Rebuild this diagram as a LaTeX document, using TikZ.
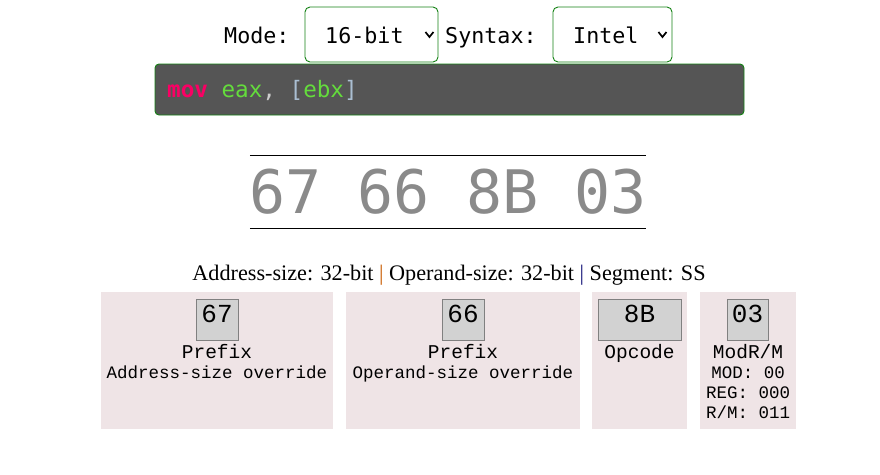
\documentclass[tikz,border=0pt]{standalone}
\usepackage{fontspec}
\setmainfont{Liberation Serif}
\newfontfamily\dvmono{DejaVu Sans Mono}
\newfontfamily\lbmono{Liberation Mono}
\usepackage{tikz}
\usetikzlibrary{positioning}
\definecolor{selgreen}{RGB}{20,130,20}
\definecolor{codebg}{RGB}{85,85,85}
\definecolor{movpink}{RGB}{250,0,100}
\definecolor{regreen}{RGB}{100,220,60}
\definecolor{punctgray}{RGB}{205,205,205}
\definecolor{brackgray}{RGB}{170,190,210}
\definecolor{hexgray}{RGB}{138,138,138}
\definecolor{sepA}{RGB}{200,90,0}
\definecolor{sepB}{RGB}{20,20,120}
\definecolor{fieldbg}{RGB}{239,228,230}
\definecolor{bytebg}{RGB}{210,210,210}
\definecolor{byteline}{RGB}{128,128,128}

\begin{document}
\begin{tikzpicture}[x=1pt,y=-1pt,
    selbox/.style={draw=selgreen, line width=0.9pt, rounded corners=5pt, fill=white, minimum height=55pt, inner sep=0pt},
    chevron/.style={line width=1.7pt},
    toptxt/.style={anchor=base west, inner sep=0pt, font=\dvmono\fontsize{21.7}{26}\selectfont},
    fieldbox/.style={fill=fieldbg, minimum height=137pt, inner sep=0pt},
    bytebox/.style={draw=byteline, fill=bytebg, line width=0.9pt, minimum height=41pt, inner sep=0pt, text height=12pt, text depth=7pt, font=\lbmono\fontsize{26}{30}\selectfont},
    fieldname/.style={anchor=base, inner sep=0pt, font=\lbmono\fontsize{19.5}{23}\selectfont},
    fieldnote/.style={anchor=base, inner sep=0pt, font=\lbmono\fontsize{17.5}{21}\selectfont}]
    \useasboundingbox (0,0) rectangle (880,474);

    \begin{scope}
        \node[toptxt] (modelabel) at (224,43) {Mode:};
        \node[selbox, minimum width=133pt] (modesel) at (371.5,34.5) {};
        \node[toptxt] (modeval) at (325,43) {16-bit};
        \draw[chevron] ([shift={(-13,-2.5)}]modesel.east) -- ++(4,5) -- ++(4,-5);
        \node[toptxt] (synlabel) at (445,43) {Syntax:};
        \node[selbox, minimum width=119pt] (synsel) at (612.5,34.5) {};
        \node[toptxt] (synval) at (573,43) {Intel};
        \draw[chevron] ([shift={(-14,-2.5)}]synsel.east) -- ++(4,5) -- ++(4,-5);
    \end{scope}

    \node[draw=selgreen, line width=0.9pt, fill=codebg, rounded corners=4pt, minimum width=589pt, minimum height=51pt] (codebox) at (449.5,89.5) {};
    \node[toptxt, font=\dvmono\fontsize{22.6}{27}\selectfont] (codeline) at (167,97) {{\bfseries\color{movpink}mov} {\color{regreen}eax}{\color{punctgray},} {\color{brackgray}[}{\color{regreen}ebx}{\color{brackgray}]}};

    \node[minimum width=396pt, minimum height=72pt, inner sep=0pt] (hexrule) at (448,192) {};
    \draw[line width=1pt] (hexrule.north west) -- (hexrule.north east);
    \draw[line width=1pt] (hexrule.south west) -- (hexrule.south east);
    \node[anchor=base, inner sep=0pt, text=hexgray, font=\dvmono\fontsize{60}{70}\selectfont] (hexbytes) at (448,213) {67 66 8B 03};

    \node[anchor=base, inner sep=0pt, font=\fontsize{22.2}{26}\selectfont] (sizeinfo) at (449,280) {Address-size: 32-bit {\color{sepA}|} Operand-size: 32-bit {\color{sepB}|} Segment: SS};

    \begin{scope}
        \node[fieldbox, minimum width=232pt] (f67) at (217,360.5) {};
        \node[bytebox, minimum width=42pt] (b67) at (217,319.5) {67};
        \node[fieldname] (n67) at (217,358) {Prefix};
        \node[fieldnote] (d67) at (217,378) {Address-size override};
    \end{scope}

    \begin{scope}
        \node[fieldbox, minimum width=234pt] (f66) at (463,360.5) {};
        \node[bytebox, minimum width=42pt] (b66) at (463,319.5) {66};
        \node[fieldname] (n66) at (463,358) {Prefix};
        \node[fieldnote] (d66) at (463,378) {Operand-size override};
    \end{scope}

    \begin{scope}
        \node[fieldbox, minimum width=95pt] (f8b) at (639.5,360.5) {};
        \node[bytebox, minimum width=83pt] (b8b) at (639.5,319.5) {8B};
        \node[fieldname] (n8b) at (639.5,358) {Opcode};
    \end{scope}

    \begin{scope}
        \node[fieldbox, minimum width=96pt] (f03) at (748,360.5) {};
        \node[bytebox, minimum width=41pt] (b03) at (747.5,319.5) {03};
        \node[fieldname] (n03) at (748,358) {ModR/M};
        \node[fieldnote] (mod03) at (748,378) {MOD: 00};
        \node[fieldnote] (reg03) at (748,398) {REG: 000};
        \node[fieldnote] (rm03) at (748,418) {R/M: 011};
    \end{scope}

\end{tikzpicture}
\end{document}
